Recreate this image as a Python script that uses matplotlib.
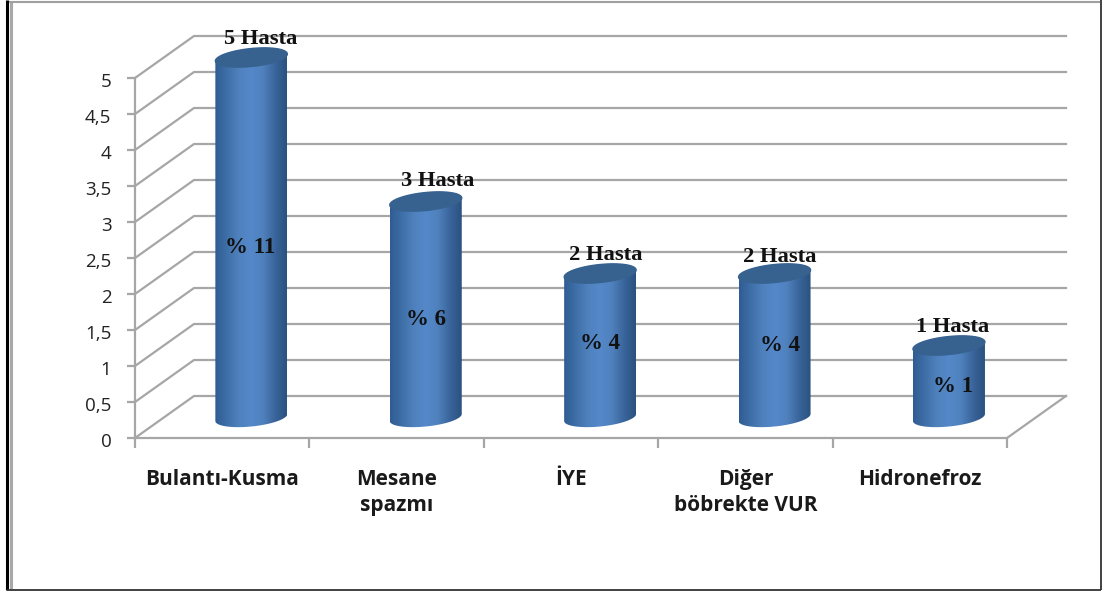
import numpy as np
import matplotlib
matplotlib.use("Agg")
import matplotlib.pyplot as plt
from matplotlib.colors import LinearSegmentedColormap
from matplotlib.path import Path
from matplotlib.patches import PathPatch
from matplotlib.transforms import ScaledTranslation

categories = ["Bulantı-Kusma", "Mesane\nspazmı", "İYE", "Diğer\nböbrekte VUR", "Hidronefroz"]
values = [5, 3, 2, 2, 1]
top_labels = ["5 Hasta", "3 Hasta", "2 Hasta", "2 Hasta", "1 Hasta"]
mid_labels = ["% 11", "% 6", "% 4", "% 4", "% 1"]
y_ticks = [0, 0.5, 1, 1.5, 2, 2.5, 3, 3.5, 4, 4.5, 5]
y_tick_labels = ["0", "0,5", "1", "1,5", "2", "2,5", "3", "3,5", "4", "4,5", "5"]

# label placement (styling only)
top_shift_px = [9, 12, 6, 5, 4]
top_rise_px = [18, 21, 19, 17, 19]
mid_shift_px = [-1, 0, 0, 5, 4]
mid_height = [2.65, 1.65, 1.31, 1.28, 0.71]

W, H = 1103, 591
fig = plt.figure(figsize=(W / 100, H / 100), dpi=100, facecolor="white")

# frame
bg = fig.add_axes([0, 0, 1, 1], zorder=0)
bg.set_xlim(0, W); bg.set_ylim(H, 0); bg.axis("off")
bg.plot([7, 7], [0, 590], color="#000000", lw=2.2, solid_capstyle="butt")
bg.plot([10.8, 10.8], [1, 589], color="#a8a8a8", lw=2.2, solid_capstyle="butt")
bg.plot([9, 1100], [1.5, 1.5], color="#a0a0a0", lw=1.5, solid_capstyle="butt")
bg.plot([7, 1101], [589.5, 589.5], color="#333333", lw=1.3, solid_capstyle="butt")
bg.plot([1100.5, 1100.5], [0, 590], color="#333333", lw=1.3, solid_capstyle="butt")

L, R, T, B = 135, 1007, 78, 438
ax = fig.add_axes([L / W, 1 - B / H, (R - L) / W, (B - T) / H], zorder=1)
ax.set_xlim(0, 5); ax.set_ylim(0, 5)
ax.patch.set_visible(False)

px_x = (R - L) / 5
px_y = (B - T) / 5
PT = 0.72
dx = 59 / px_x     # depth offset in data units
dy = 42 / px_y
GRID = "#a6a6a6"

for t in y_ticks:
    ax.plot([0, dx, 5 + dx], [t, t + dy, t + dy], color=GRID, lw=1.6, clip_on=False, zorder=1)
ax.plot([5, 5 + dx], [0, dy], color=GRID, lw=1.6, clip_on=False, zorder=1)

for s in ["top", "right"]:
    ax.spines[s].set_visible(False)
for s in ["left", "bottom"]:
    ax.spines[s].set_color(GRID); ax.spines[s].set_linewidth(1.6)
ax.set_yticks(y_ticks, y_tick_labels)
ax.set_xticks(range(6), [""] * 6)
ax.tick_params(axis="both", color=GRID, width=1.6, length=7)
ax.tick_params(axis="y", labelsize=13.5, labelcolor="#222222", pad=11, length=6)
down = ScaledTranslation(0, -2 / 100, fig.dpi_scale_trans)
for lab in ax.get_yticklabels():
    lab.set_family("Open Sans")
    lab.set_transform(lab.get_transform() + down)

for i, c in enumerate(categories):
    ax.annotate(c, (i + 0.5, 0), xytext=(0, -31 * PT), textcoords="offset points",
                ha="center", va="top", fontsize=15, fontweight="bold",
                family="Open Sans", color="#1a1a1a", linespacing=1.32,
                annotation_clip=False, multialignment="center")

cmap = LinearSegmentedColormap.from_list(
    "cyl", ["#2f5c92", "#3f6fa8", "#4f81bd", "#5488c9", "#4f81bd", "#3a659c", "#2a527f"])
grad = np.linspace(0, 1, 256).reshape(1, -1)

half = 36 / px_x     # cylinder half width
ry = 9 / px_y        # ellipse half height
tilt = 3.5 / px_y    # right edge is higher than left edge
base = 20.5 / px_y
xoff = 0.5 + dx / 2 - 0.002

def edge(cx, cy, lo, hi):
    a = np.linspace(lo, hi, 60)
    return cx + half * np.cos(a), cy + ry * np.sin(a) + tilt * np.cos(a)

for i, v in enumerate(values):
    cx = i + xoff
    y0 = base
    y1 = base + v
    xb, yb = edge(cx, y0, np.pi, 2 * np.pi)
    xt, yt = edge(cx, y1, 0, np.pi)
    verts = np.r_[np.c_[xb, yb], np.c_[xt, yt], [[xb[0], yb[0]]]]
    codes = [Path.MOVETO] + [Path.LINETO] * (len(verts) - 2) + [Path.CLOSEPOLY]
    body = PathPatch(Path(verts, codes), fc="none", ec="none", transform=ax.transData, clip_on=False)
    ax.add_patch(body)
    im = ax.imshow(grad, cmap=cmap, extent=[cx - half, cx + half, y0 - 2 * ry, y1 + 2 * ry],
                   aspect="auto", zorder=3, interpolation="bilinear")
    im.set_clip_box(fig.bbox)
    im.set_clip_path(body)
    xc, yc = edge(cx, y1, 0, 2 * np.pi)
    ax.fill(xc, yc, color="#37618f", zorder=4, clip_on=False)
    ax.annotate(top_labels[i], (cx, y1), xytext=(top_shift_px[i] * PT, top_rise_px[i] * PT),
                textcoords="offset points", ha="center", va="center", fontsize=16.2, fontweight="bold",
                family="Liberation Serif", color="#111111", zorder=6, annotation_clip=False)
    ax.annotate(mid_labels[i], (cx, mid_height[i]), xytext=(mid_shift_px[i] * PT, 0),
                textcoords="offset points", ha="center", va="center", fontsize=16.5, fontweight="bold",
                family="Liberation Serif", color="#111111", zorder=6, annotation_clip=False)

ax.set_xlim(0, 5); ax.set_ylim(0, 5)
fig.savefig("out.png", dpi=100, facecolor="white")
